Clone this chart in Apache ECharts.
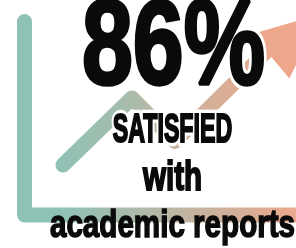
<!DOCTYPE html>
<html>
<head>
<meta charset="utf-8">
<script src="https://cdn.jsdelivr.net/npm/echarts@6/dist/echarts.min.js"></script>
<style>
  html, body { margin: 0; padding: 0; background: #fff; }
  #chart { width: 296px; height: 248px; }
</style>
</head>
<body>
<div id="chart"></div>
<script>
// L-shaped axis frame (x, y in chart units, y up)
const framePoints = [[24.5, 226.5], [24.5, 33], [300, 33]];
// rising trend line: start, peak, dip, end under the arrow head
const trendPoints = [[63, 83], [132, 150], [175, 106.5], [276, 206]];
// arrow head position
const arrowPoints = [[296, 213]];

// headline texts
const bigNumber = '86%';
const textLines = ['SATISFIED', 'with', 'academic reports'];

const teal = '#8ec2b6';
const salmon = '#efa78b';
const font = '"Liberation Sans", Arial, sans-serif';

// text with white halo underneath and a slightly thickened black fill on top
function label(text, x, y, size, sx, sy, halo, thick) {
  const base = {
    text: text, x: 0, y: 0, textAlign: 'center', textVerticalAlign: 'middle',
    font: 'bold ' + size + 'px ' + font
  };
  const out = [];
  if (halo) {
    out.push({
      type: 'text', x: x, y: y, scaleX: sx, scaleY: sy, z: 100,
      style: Object.assign({}, base, { fill: '#fff', stroke: '#fff', lineWidth: halo })
    });
  }
  out.push({
    type: 'text', x: x, y: y, scaleX: sx, scaleY: sy, z: 101,
    style: Object.assign({}, base, { fill: '#0a0a0a', stroke: '#0a0a0a', lineWidth: thick })
  });
  return out;
}

const chart = echarts.init(document.getElementById('chart'));

chart.setOption({
  animation: false,
  grid: { left: 0, right: 0, top: 0, bottom: 0 },
  xAxis: { type: 'value', min: 0, max: 296, show: false },
  yAxis: { type: 'value', min: 0, max: 248, show: false },
  series: [
    {
      type: 'line',
      data: framePoints,
      showSymbol: false,
      lineStyle: {
        width: 15,
        cap: 'round',
        join: 'round',
        color: new echarts.graphic.LinearGradient(0, 0, 1, 0, [
          { offset: 0, color: teal },
          { offset: 0.15, color: teal },
          { offset: 0.55, color: '#bdb5a3' },
          { offset: 1, color: salmon }
        ])
      }
    },
    {
      type: 'line',
      data: trendPoints,
      showSymbol: false,
      lineStyle: {
        width: 15,
        cap: 'round',
        join: 'round',
        color: new echarts.graphic.LinearGradient(0, 0, 1, 0, [
          { offset: 0, color: teal },
          { offset: 0.33, color: '#a8bcaa' },
          { offset: 0.55, color: '#cbb39e' },
          { offset: 1, color: salmon }
        ])
      }
    },
    {
      type: 'scatter',
      data: arrowPoints,
      symbol: 'triangle',
      symbolSize: [58, 66],
      symbolRotate: -50,
      itemStyle: { color: salmon, opacity: 1 }
    }
  ],
  graphic: [].concat(
    label(bigNumber, 173.5, 50.5, 104, 0.88, 1.16, 9, 3),
    label(textLines[0], 172.5, 131, 38, 0.61, 1.06, 8, 2),
    label(textLines[1], 172.5, 179, 41, 0.72, 1, 6, 2),
    label(textLines[2], 172.5, 226, 37, 0.80, 1.04, 0, 1.5)
  )
});
</script>
</body>
</html>
